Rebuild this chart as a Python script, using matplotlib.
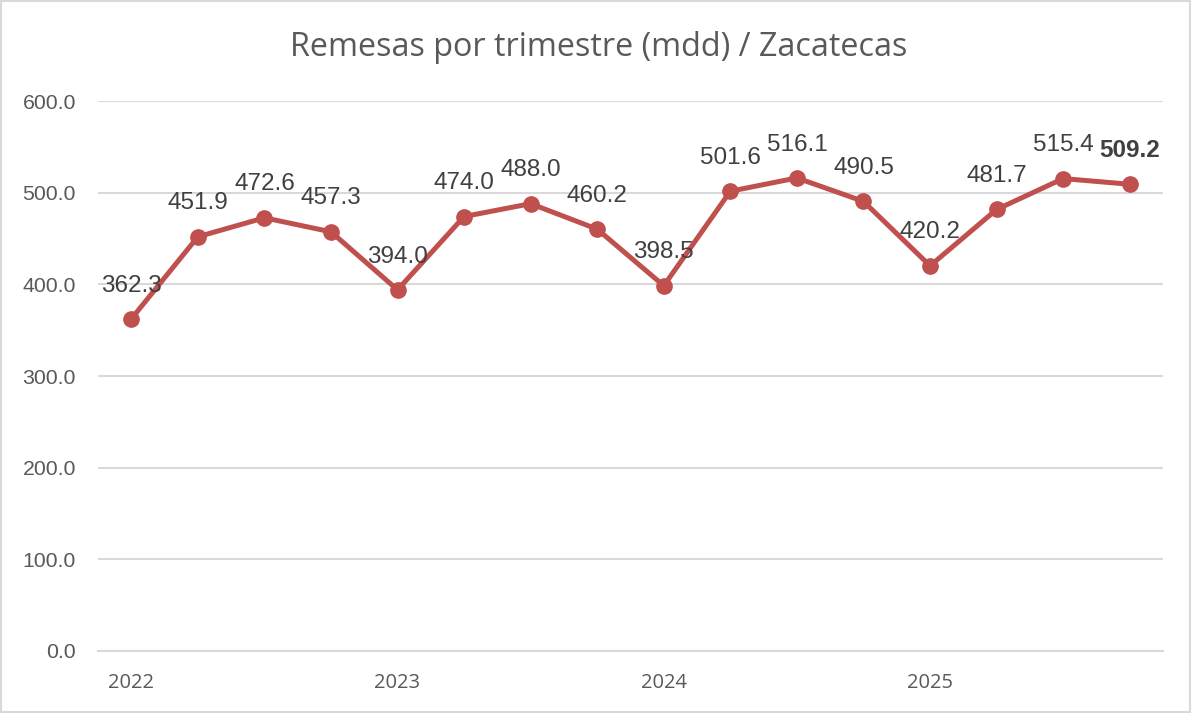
import numpy as np
import matplotlib.pyplot as plt
from matplotlib.patches import Rectangle

# ===== DATA =====
values = [362.3, 451.9, 472.6, 457.3, 394.0, 474.0, 488.0, 460.2,
          398.5, 501.6, 516.1, 490.5, 420.2, 481.7, 515.4, 509.2]
year_labels = ["2022", "2023", "2024", "2025"]
year_pos = [0, 4, 8, 12]
y_ticks = [0, 100, 200, 300, 400, 500, 600]

LINE = "#C0504D"
GRAY = "#595959"
GRID = "#D9D9D9"

fig = plt.figure(figsize=(11.92, 7.13), dpi=100)
ax = fig.add_axes([0.0822, 0.0870, 0.8935, 0.7713])

x = np.arange(len(values))
ax.plot(x, values, color=LINE, lw=3.6, marker="o", ms=11, zorder=3)

for i, v in enumerate(values):
    ax.annotate(f"{v:.1f}", (i, v), xytext=(0, 24), textcoords="offset points",
                ha="center", va="center", fontsize=17.5, color="#404040",
                family="Liberation Sans",
                fontweight="bold" if i == len(values) - 1 else "normal",
                zorder=4)

ax.set_xlim(-0.5, len(values) - 0.5)
ax.set_ylim(0, 600)
ax.set_yticks(y_ticks)
ax.set_yticklabels([f"{t:.1f}" for t in y_ticks], family="Liberation Sans",
                   fontsize=15.3, color=GRAY)
ax.set_xticks(year_pos)
ax.set_xticklabels(year_labels, family="Open Sans", fontsize=14.5, color=GRAY)
ax.tick_params(length=0)
ax.tick_params(axis="y", pad=16)
ax.tick_params(axis="x", pad=16)

ax.grid(axis="y", color=GRID, lw=1.5)
ax.set_axisbelow(True)
for s in ["top", "right", "left"]:
    ax.spines[s].set_visible(False)
ax.spines["bottom"].set_color(GRID)
ax.spines["bottom"].set_linewidth(1.5)

fig.text(0.502, 0.934, "Remesas por trimestre (mdd) / Zacatecas", ha="center",
         va="center", fontsize=23.3, color=GRAY, family="Open Sans")

# border round the chart
fig.patches.append(Rectangle((0.001, 0.001), 0.997, 0.997, transform=fig.transFigure,
                             fill=False, ec=GRID, lw=1.5))

fig.savefig("out.png", dpi=100)
